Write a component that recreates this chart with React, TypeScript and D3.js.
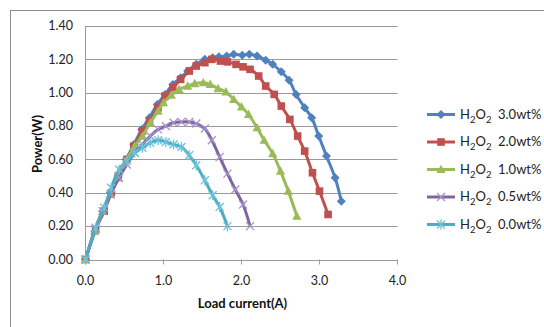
import React from 'react';
import * as d3 from 'd3';

// values
const currentBlue = [0, 0.12, 0.22, 0.32, 0.42, 0.52, 0.62, 0.72, 0.82, 0.92, 1.02, 1.12, 1.22, 1.31, 1.42, 1.53, 1.63, 1.71, 1.81, 1.90, 2.01, 2.10, 2.20, 2.31, 2.40, 2.51, 2.61, 2.70, 2.81, 2.90, 2.99, 3.09, 3.20, 3.28];
const powerBlue = [0, 0.17, 0.29, 0.40, 0.50, 0.60, 0.69, 0.78, 0.85, 0.93, 0.99, 1.05, 1.09, 1.13, 1.17, 1.20, 1.21, 1.215, 1.22, 1.23, 1.225, 1.23, 1.22, 1.195, 1.17, 1.125, 1.075, 0.99, 0.91, 0.85, 0.74, 0.62, 0.49, 0.35];

const currentRed = [0, 0.13, 0.24, 0.33, 0.42, 0.53, 0.62, 0.73, 0.82, 0.93, 1.02, 1.12, 1.22, 1.33, 1.42, 1.53, 1.62, 1.73, 1.82, 1.93, 2.02, 2.11, 2.22, 2.31, 2.42, 2.51, 2.62, 2.72, 2.81, 2.91, 3.00, 3.11];
const powerRed = [0, 0.18, 0.29, 0.40, 0.50, 0.60, 0.68, 0.77, 0.83, 0.91, 0.98, 1.03, 1.08, 1.13, 1.16, 1.18, 1.20, 1.19, 1.185, 1.17, 1.155, 1.14, 1.10, 1.04, 0.99, 0.92, 0.84, 0.74, 0.65, 0.52, 0.41, 0.27];

const currentGreen = [0, 0.12, 0.22, 0.32, 0.42, 0.53, 0.63, 0.73, 0.83, 0.93, 1.00, 1.10, 1.20, 1.31, 1.40, 1.51, 1.60, 1.70, 1.80, 1.90, 2.00, 2.09, 2.20, 2.29, 2.40, 2.50, 2.60, 2.71];
const powerGreen = [0, 0.17, 0.29, 0.39, 0.49, 0.60, 0.68, 0.74, 0.82, 0.89, 0.94, 0.985, 1.02, 1.04, 1.055, 1.06, 1.05, 1.025, 1.005, 0.96, 0.915, 0.87, 0.79, 0.715, 0.635, 0.53, 0.41, 0.26];

const currentPurple = [0, 0.12, 0.22, 0.32, 0.43, 0.53, 0.63, 0.73, 0.83, 0.93, 1.03, 1.13, 1.23, 1.33, 1.42, 1.53, 1.62, 1.72, 1.82, 1.92, 2.02, 2.11];
const powerPurple = [0, 0.18, 0.29, 0.39, 0.49, 0.57, 0.64, 0.69, 0.74, 0.78, 0.80, 0.82, 0.825, 0.825, 0.815, 0.785, 0.715, 0.615, 0.515, 0.42, 0.33, 0.20];

const currentCyan = [0, 0.13, 0.24, 0.33, 0.43, 0.53, 0.63, 0.73, 0.83, 0.93, 1.03, 1.13, 1.23, 1.33, 1.42, 1.53, 1.63, 1.72, 1.82];
const powerCyan = [0, 0.19, 0.31, 0.43, 0.54, 0.59, 0.64, 0.67, 0.70, 0.715, 0.705, 0.69, 0.675, 0.625, 0.565, 0.475, 0.385, 0.315, 0.20];

const concentrations = ['3.0wt%', '2.0wt%', '1.0wt%', '0.5wt%', '0.0wt%'];
const xTicks = [0, 1, 2, 3, 4];
const yTicks = [0, 0.2, 0.4, 0.6, 0.8, 1.0, 1.2, 1.4];

type Marker = 'diamond' | 'square' | 'triangle' | 'x' | 'star';

const series = [
  { name: concentrations[0], xs: currentBlue, ys: powerBlue, color: '#4f81bd', markColor: '#4f81bd', marker: 'diamond' as Marker },
  { name: concentrations[1], xs: currentRed, ys: powerRed, color: '#c0504d', markColor: '#c0504d', marker: 'square' as Marker },
  { name: concentrations[2], xs: currentGreen, ys: powerGreen, color: '#9bbb59', markColor: '#9bbb59', marker: 'triangle' as Marker },
  { name: concentrations[3], xs: currentPurple, ys: powerPurple, color: '#8064a2', markColor: '#a694c8', marker: 'x' as Marker },
  { name: concentrations[4], xs: currentCyan, ys: powerCyan, color: '#4bacc6', markColor: '#6cc3dc', marker: 'star' as Marker },
];

const left = 85.5, right = 397.5, top = 26, bottom = 259.5;
const font = 'Lato, "Open Sans", sans-serif';

function markerShape(type: Marker, cx: number, cy: number, color: string, key: string | number) {
  const s = 4.5;
  if (type === 'diamond') {
    return <path key={key} d={`M${cx},${cy - s}L${cx + s},${cy}L${cx},${cy + s}L${cx - s},${cy}Z`} fill={color} />;
  }
  if (type === 'square') {
    return <rect key={key} x={cx - 3.8} y={cy - 3.8} width={7.6} height={7.6} fill={color} />;
  }
  if (type === 'triangle') {
    return <path key={key} d={`M${cx},${cy - 4.8}L${cx + 4.6},${cy + 3.6}L${cx - 4.6},${cy + 3.6}Z`} fill={color} />;
  }
  if (type === 'x') {
    return <path key={key} d={`M${cx - 4},${cy - 4}L${cx + 4},${cy + 4}M${cx - 4},${cy + 4}L${cx + 4},${cy - 4}`} stroke={color} strokeWidth={1.3} fill="none" />;
  }
  return <path key={key} d={`M${cx - 4},${cy - 4}L${cx + 4},${cy + 4}M${cx - 4},${cy + 4}L${cx + 4},${cy - 4}M${cx},${cy - 5}L${cx},${cy + 5}`} stroke={color} strokeWidth={1.3} fill="none" />;
}

export default function App() {
  const x = d3.scaleLinear().domain([0, 4]).range([left, right]);
  const y = d3.scaleLinear().domain([0, 1.4]).range([bottom, top]);

  const line = d3.line<[number, number]>()
    .x(d => x(d[0]))
    .y(d => y(d[1]))
    .curve(d3.curveCatmullRom.alpha(0.5));

  const legendY = d3.scalePoint<string>().domain(concentrations).range([114.5, 224.5]);

  return (
    <svg width={544} height={327} style={{ position: 'absolute', left: 0, top: 0, background: '#fff' }} fontFamily={font}>
      <rect x={10.5} y={10.5} width={560} height={340} fill="#fff" stroke="#8c8c8c" strokeWidth={1} />

      {yTicks.slice(1).map(t => (
        <line key={t} x1={left} x2={right} y1={Math.round(y(t)) + 0.5} y2={Math.round(y(t)) + 0.5} stroke="#9a9a9a" strokeWidth={1} />
      ))}
      <line x1={left} x2={left} y1={top} y2={bottom} stroke="#9a9a9a" />
      <line x1={left} x2={right} y1={Math.round(bottom) + 0.5} y2={Math.round(bottom) + 0.5} stroke="#9a9a9a" />
      {xTicks.map(t => (
        <line key={t} x1={x(t)} x2={x(t)} y1={bottom} y2={bottom + 5} stroke="#9a9a9a" />
      ))}

      {yTicks.map(t => (
        <text key={t} x={73} y={y(t) + 4.3} textAnchor="end" fontSize={12.5} fill="#222">{t.toFixed(2)}</text>
      ))}
      {xTicks.map(t => (
        <text key={t} x={x(t)} y={284.5} textAnchor="middle" fontSize={12.5} fill="#222">{t.toFixed(1)}</text>
      ))}

      <text x={242.5} y={307.5} textAnchor="middle" fontSize={13} fontWeight="bold" fill="#111">Load current(A)</text>
      <text transform={`translate(41.5,144) rotate(-90)`} textAnchor="middle" fontSize={13} fontWeight="bold" fill="#111">Power(W)</text>

      {series.map(s => {
        const pts = s.xs.map((v, i) => [v, s.ys[i]] as [number, number]);
        return (
          <g key={s.name}>
            <path d={line(pts) || ''} fill="none" stroke={s.color} strokeWidth={3} />
            {pts.map((p, i) => markerShape(s.marker, x(p[0]), y(p[1]), s.markColor, i))}
          </g>
        );
      })}

      {series.map(s => {
        const ly = legendY(s.name) || 0;
        return (
          <g key={s.name}>
            <line x1={427} x2={455} y1={ly} y2={ly} stroke={s.color} strokeWidth={3} />
            {markerShape(s.marker, 441, ly, s.markColor, 'm')}
            <text x={460} y={ly + 4} fontSize={13} fill="#222">
              H<tspan fontSize={9.5} dy={4}>2</tspan><tspan dy={-4}>O</tspan><tspan fontSize={9.5} dy={4}>2</tspan>
            </text>
            <text x={498} y={ly + 4} fontSize={13} fill="#222">{s.name}</text>
          </g>
        );
      })}
    </svg>
  );
}
